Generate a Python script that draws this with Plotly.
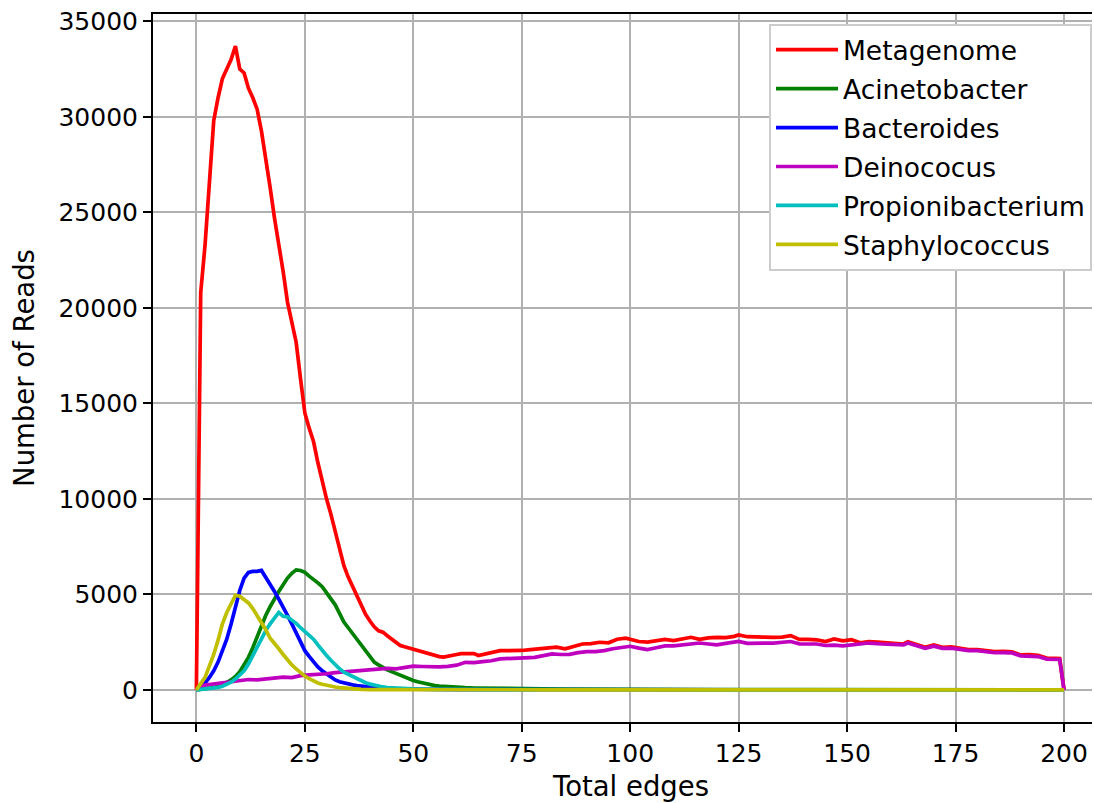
import plotly.graph_objects as go

# ---------------- data ----------------
meta_x = list(range(0, 61)) + [61, 62, 63, 64, 65, 66, 67, 68, 69, 70, 72, 74, 75, 77, 79, 81, 83, 85, 87,
                                89, 91, 93, 95, 97, 99, 100, 102, 104, 106, 108, 110, 112, 114, 116, 118,
                                120, 122, 124, 125, 127, 129, 131, 133, 135, 137, 139, 141, 143, 145, 147,
                                149, 151, 153, 155, 157, 159, 161, 163, 164, 166, 168, 170, 172, 174, 176,
                                178, 180, 182, 184, 186, 188, 190, 192, 194, 196, 198, 199, 200]
meta_y = [0, 20800, 23300, 26800, 29800, 31000, 32000, 32500, 33000, 33700,
          32500, 32300, 31500, 31000, 30400, 29250, 27900, 26300, 24700, 23400,
          21900, 20300, 19200, 18200, 16300, 14500, 13700, 13000, 11900, 10850,
          10000, 9200, 8300, 7350, 6500, 5900, 5400, 4850, 4400, 3950,
          3600, 3300, 3090, 3020, 2830, 2660, 2470, 2320, 2250, 2180,
          2110, 2050, 1980, 1920, 1860, 1800, 1740, 1710, 1770, 1800, 1850,
          1890, 1900, 1930, 1900, 1800, 1850, 1930, 1950, 1980, 2050, 2050, 2050, 2060, 2100, 2140,
          2180, 2230, 2150, 2300, 2400, 2420, 2490, 2460, 2650, 2700, 2630, 2530, 2500, 2580, 2640,
          2580, 2680, 2750, 2640, 2720, 2750, 2730, 2800, 2870, 2780, 2750, 2760, 2750, 2760, 2840,
          2640, 2640, 2620, 2530, 2660, 2560, 2630, 2460, 2520, 2500, 2460, 2450, 2400, 2520, 2380,
          2230, 2350, 2230, 2250, 2200, 2110, 2110, 2060, 2000, 2010, 1990, 1830, 1840, 1800, 1660,
          1650, 1640, 0]

acin_x = list(range(0, 61)) + [62, 64, 66, 68, 70, 75, 80, 85, 90, 95, 100, 110, 120, 140, 160, 180, 199, 200]
acin_y = [0, 20, 50, 80, 120, 180, 270, 380, 520, 700,
          950, 1300, 1700, 2200, 2800, 3350, 3900, 4350, 4800, 5150,
          5500, 5850, 6100, 6280, 6250, 6150, 5950, 5800, 5600, 5400,
          5100, 4800, 4450, 4000, 3550, 3250, 2950, 2650, 2350, 2050,
          1750, 1450, 1300, 1150, 1050, 950, 850, 750, 650, 550,
          490, 420, 360, 300, 250, 220, 190, 170, 160, 145, 135,
          110, 95, 85, 75, 65, 55, 50, 40, 30, 25, 20, 15, 10, 8, 6, 5, 3, 0]

bact_x = list(range(0, 46)) + [47, 50, 55, 60, 70, 80, 100, 150, 199, 200]
bact_y = [0, 150, 350, 650, 1000, 1450, 2000, 2650, 3450, 4350,
          5200, 5850, 6150, 6200, 6200, 6250, 5900, 5550, 5150, 4750,
          4350, 3900, 3450, 2950, 2450, 2050, 1750, 1450, 1200, 1000,
          830, 680, 520, 420, 350, 300, 260, 220, 190, 160,
          130, 110, 90, 70, 55, 45, 35, 25, 15, 10, 5, 3, 2, 1, 0, 0]

dein_x = [0, 1, 2, 4, 6, 8, 10, 12, 14, 16, 18, 20, 22, 24, 26, 28, 30, 32, 34, 36, 38, 40, 42, 44,
          46, 48, 50, 52, 54, 56, 58, 60, 62, 64, 66, 68, 70, 72, 75, 78, 80, 82, 84, 86, 88, 90,
          92, 94, 96, 98, 100, 102, 104, 106, 108, 110, 112, 114, 116, 118, 120, 122, 124, 125,
          127, 129, 131, 133, 135, 137, 139, 141, 143, 145, 147, 149, 151, 152, 155, 158, 161,
          163, 164, 166, 168, 170, 172, 174, 176, 178, 180, 182, 184, 186, 188, 190, 192, 194,
          196, 198, 199, 200]
dein_y = [0, 200, 250, 300, 350, 420, 480, 540, 520, 560, 620, 660, 640, 740, 780, 800, 840, 900,
          940, 970, 1000, 1050, 1080, 1120, 1100, 1180, 1240, 1220, 1190, 1200, 1230, 1290, 1440,
          1420, 1480, 1520, 1620, 1630, 1650, 1700, 1790, 1880, 1850, 1860, 1950, 2000, 2000, 2050,
          2150, 2230, 2280, 2180, 2110, 2200, 2300, 2300, 2350, 2380, 2450, 2400, 2350, 2430, 2480,
          2530, 2430, 2420, 2450, 2450, 2470, 2530, 2410, 2420, 2400, 2320, 2340, 2300, 2360, 2400,
          2450, 2400, 2380, 2350, 2450, 2300, 2170, 2280, 2170, 2180, 2130, 2050, 2050, 2000, 1940,
          1950, 1930, 1780, 1780, 1740, 1610, 1600, 1590, 0]

prop_x = list(range(0, 47)) + [48, 50, 55, 60, 70, 80, 100, 150, 199, 200]
prop_y = [0, 20, 40, 60, 90, 130, 190, 280, 400, 560,
          760, 1000, 1350, 1800, 2250, 2700, 3100, 3450, 3750, 4050,
          3850, 3820, 3650, 3480, 3250, 3050, 2850, 2650, 2350, 2050,
          1800, 1550, 1300, 1100, 920, 800, 680, 560, 450, 370,
          300, 240, 190, 150, 120, 100, 85, 60, 45, 25, 15, 8, 5, 3, 2, 1, 0]

staph_x = list(range(0, 39)) + [40, 45, 50, 60, 80, 100, 150, 199, 200]
staph_y = [0, 300, 650, 1250, 1850, 2600, 3450, 4050, 4550, 4950,
           4900, 4750, 4550, 4250, 3900, 3500, 3150, 2700, 2450, 2150,
           1850, 1550, 1300, 1100, 900, 720, 580, 460, 360, 290,
           230, 180, 145, 115, 90, 70, 50, 35, 20, 15, 10, 5, 3, 2, 1, 1, 0, 0]

series = [
    ("Metagenome", meta_x, meta_y, "#ff0000"),
    ("Acinetobacter", acin_x, acin_y, "#008000"),
    ("Bacteroides", bact_x, bact_y, "#0000ff"),
    ("Deinococus", dein_x, dein_y, "#bf00bf"),
    ("Propionibacterium", prop_x, prop_y, "#00bfbf"),
    ("Staphylococcus", staph_x, staph_y, "#bfbf00"),
]

x_ticks = [0, 25, 50, 75, 100, 125, 150, 175, 200]
y_ticks = [0, 5000, 10000, 15000, 20000, 25000, 30000, 35000]

FONT = "DejaVu Sans"

fig = go.Figure()
for name, xs, ys, col in series:
    fig.add_trace(go.Scatter(x=xs, y=ys, mode="lines", name=name, legendgroup=name,
                             line=dict(color=col, width=3.7)))

fig.update_layout(
    width=1094, height=803,
    margin=dict(l=153, r=2, t=14, b=81),
    paper_bgcolor="white", plot_bgcolor="white",
    font=dict(family=FONT, size=25, color="black"),
    showlegend=True,
    legend=dict(x=1.0, xanchor="right", y=0.986, yanchor="top",
                bgcolor="white", bordercolor="#cccccc", borderwidth=2,
                font=dict(family=FONT, size=26.5, color="black"),
                tracegroupgap=1.5, itemwidth=62),
)
fig.update_xaxes(
    range=[-10, 206.45], tickvals=x_ticks, ticktext=[str(v) for v in x_ticks],
    showgrid=True, gridcolor="#b0b0b0", gridwidth=2, zeroline=False,
    showline=True, linecolor="black", linewidth=2, mirror=True,
    ticks="outside", ticklen=8, tickwidth=2, tickcolor="black",
    tickfont=dict(family=FONT, size=25),
)
fig.update_yaxes(
    range=[-1685, 35385], tickvals=y_ticks, ticktext=[str(v) for v in y_ticks],
    showgrid=True, gridcolor="#b0b0b0", gridwidth=2, zeroline=False,
    showline=True, linecolor="black", linewidth=2, mirror=False,
    ticks="outside", ticklen=8, tickwidth=2, tickcolor="black",
    tickfont=dict(family=FONT, size=25),
    title=dict(text="Number of Reads", font=dict(family=FONT, size=27.5), standoff=16),
)
# x-axis title centred on the (cropped) matplotlib axes, as in the reference
fig.add_annotation(text="Total edges", xref="paper", yref="paper",
                   x=(630 - 153) / 939, y=(722 - 786) / 708,
                   xanchor="center", yanchor="middle", showarrow=False,
                   font=dict(family=FONT, size=27.5, color="black"))

fig.write_html("out.html")
